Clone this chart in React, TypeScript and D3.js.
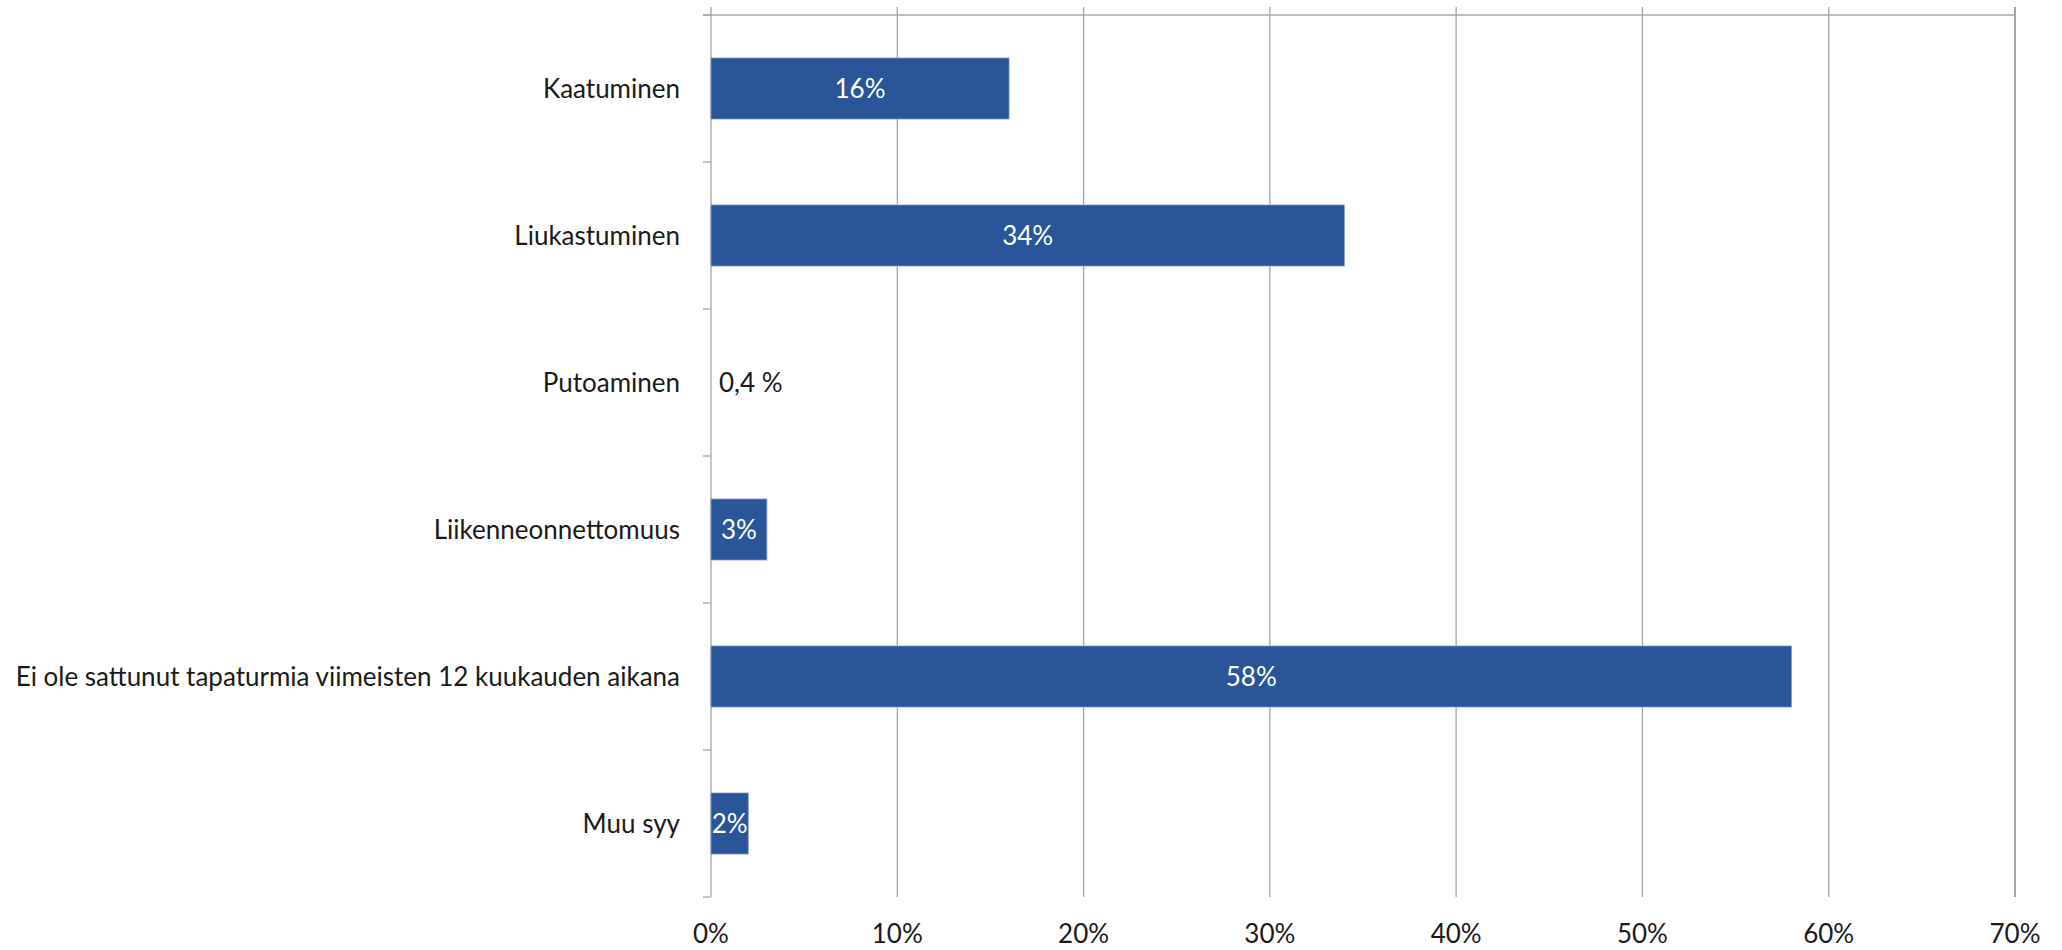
import React from 'react';
import * as d3 from 'd3';

const categories = [
  'Kaatuminen',
  'Liukastuminen',
  'Putoaminen',
  'Liikenneonnettomuus',
  'Ei ole sattunut tapaturmia viimeisten 12 kuukauden aikana',
  'Muu syy',
];
const values = [16, 34, 0, 3, 58, 2];
const valueLabels = ['16%', '34%', '0,4 %', '3%', '58%', '2%'];
const xTicks = [0, 10, 20, 30, 40, 50, 60, 70];

const W = 2062;
const H = 950;
const FONT = 'Lato, "Open Sans", sans-serif';

export default function App() {
  const x = d3.scaleLinear().domain([0, 70]).range([711, 2015]);
  const y = d3
    .scaleBand<string>()
    .domain(categories)
    .range([15, 897])
    .paddingInner(0.585)
    .paddingOuter(0.2925);

  const step = y.step();
  const top = y.range()[0];
  const boundaries = d3.range(categories.length + 1).map((i) => top + i * step);

  return (
    <svg
      width={W}
      height={H}
      style={{ position: 'absolute', left: 0, top: 0, display: 'block', background: '#fff' }}
      fontFamily={FONT}
    >
      {/* vertical gridlines */}
      {xTicks.map((t) => (
        <line
          key={'g' + t}
          x1={x(t)}
          x2={x(t)}
          y1={7}
          y2={897}
          stroke="#a6a6a6"
          strokeWidth={t === 70 ? 2 : 1.3}
        />
      ))}
      {/* top line */}
      <line x1={703} x2={x(70)} y1={top} y2={top} stroke="#a6a6a6" strokeWidth={1.3} />
      {/* category ticks */}
      {boundaries.map((b, i) => (
        <line key={'t' + i} x1={703} x2={x(0)} y1={b} y2={b} stroke="#a6a6a6" strokeWidth={1.3} />
      ))}

      {/* bars */}
      {categories.map((c, i) => (
        <rect
          key={'b' + c}
          x={x(0)}
          y={y(c)}
          width={x(values[i]) - x(0)}
          height={y.bandwidth()}
          fill="#2a5699"
          stroke={values[i] > 0 ? '#7f9acb' : 'none'}
          strokeWidth={0.8}
        />
      ))}

      {/* value labels */}
      {categories.map((c, i) => {
        const cy = (y(c) ?? 0) + y.bandwidth() / 2;
        const inside = values[i] > 0;
        return (
          <text
            key={'v' + c}
            x={inside ? (x(0) + x(values[i])) / 2 : x(0) + 8}
            y={cy}
            dy="0.36em"
            textAnchor={inside ? 'middle' : 'start'}
            fontSize={26}
            fill={inside ? '#ffffff' : '#1a1a1a'}
          >
            {valueLabels[i]}
          </text>
        );
      })}

      {/* category labels */}
      {categories.map((c) => (
        <text
          key={'c' + c}
          x={680}
          y={(y(c) ?? 0) + y.bandwidth() / 2}
          dy="0.36em"
          textAnchor="end"
          fontSize={26}
          fill="#1a1a1a"
        >
          {c}
        </text>
      ))}

      {/* x tick labels */}
      {xTicks.map((t) => (
        <text key={'x' + t} x={x(t)} y={943} textAnchor="middle" fontSize={26} fill="#1a1a1a">
          {t + '%'}
        </text>
      ))}
    </svg>
  );
}
